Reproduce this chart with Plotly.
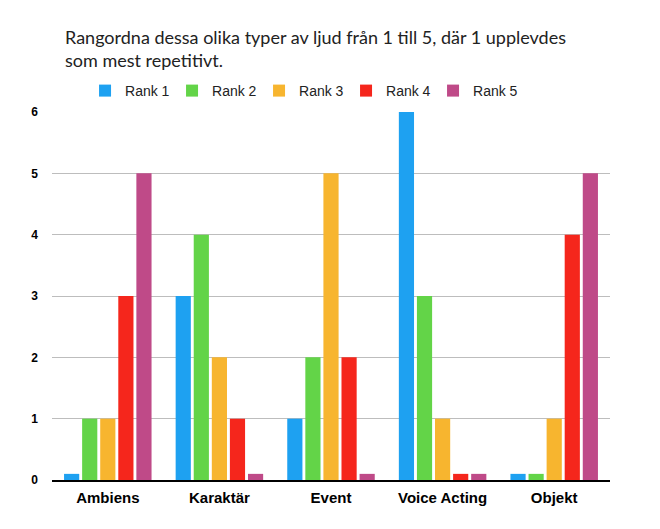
import plotly.graph_objects as go

categories = ["Ambiens", "Karaktär", "Event", "Voice Acting", "Objekt"]
series_names = ["Rank 1", "Rank 2", "Rank 3", "Rank 4", "Rank 5"]
rank1 = [0.1, 3, 1, 6, 0.1]
rank2 = [1, 4, 2, 3, 0.1]
rank3 = [1, 2, 5, 1, 1]
rank4 = [3, 1, 2, 0.1, 4]
rank5 = [5, 0.1, 0.1, 0.1, 5]
colors = ["#1EA1F1", "#63D448", "#F7B52F", "#F5261C", "#BF4A88"]
y_ticks = [0, 1, 2, 3, 4, 5, 6]

fig = go.Figure()
for name, vals, col in zip(series_names, [rank1, rank2, rank3, rank4, rank5], colors):
    fig.add_trace(go.Bar(x=categories, y=vals, name=name, marker=dict(color=col, line=dict(width=0))))

fig.update_layout(
    width=660, height=529,
    margin=dict(l=44, r=58, t=104, b=57, autoexpand=False),
    paper_bgcolor="white", plot_bgcolor="white",
    barmode="group", bargap=0.19, bargroupgap=0.16,
    font=dict(family="Liberation Sans, Arial, sans-serif", color="black"),
    showlegend=True,
    legend=dict(orientation="h", x=0.449, xanchor="center", y=1.0 + 5 / 368, yanchor="bottom",
                font=dict(size=14, family="Liberation Sans, Arial, sans-serif", color="#222"),
                entrywidth=42, entrywidthmode="pixels", itemsizing="constant",
                traceorder="normal"),
    annotations=[dict(text="Rangordna dessa olika typer av ljud från 1 till 5, där 1 upplevdes<br>som mest repetitivt.",
                      xref="paper", yref="paper", x=11 / 558, y=1, xanchor="left", yanchor="bottom",
                      yshift=39, align="left", showarrow=False,
                      font=dict(size=18, family="Lato, sans-serif", color="#222"))],
)
fig.update_yaxes(range=[0, 6], tickvals=y_ticks, showgrid=True, gridcolor="#BDBDBD", gridwidth=1,
                 zeroline=False, showline=False, ticks="", ticklabelstandoff=13, automargin=False,
                 tickfont=dict(size=12, family="Liberation Sans, Arial, sans-serif", weight="bold"))
fig.update_xaxes(showline=True, linecolor="black", linewidth=1.5, ticks="", automargin=False,
                 ticklabelstandoff=3,
                 tickfont=dict(size=15, family="Liberation Sans, Arial, sans-serif", weight="bold"))

fig.write_html("out.html")
